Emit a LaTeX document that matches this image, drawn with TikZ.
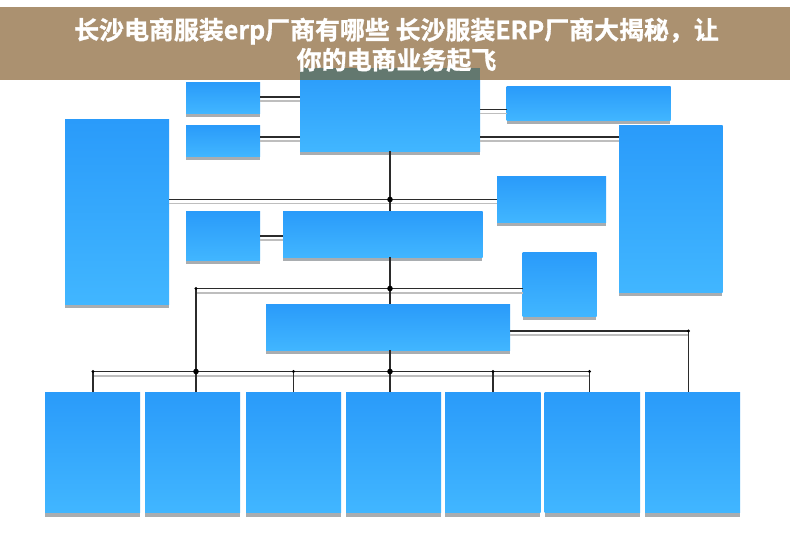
\documentclass[tikz,border=0pt]{standalone}
\usepackage{fontspec}
\newfontfamily\cjk[FakeBold=1.2]{Noto Sans CJK SC Bold}
\definecolor{bannerc}{HTML}{AB9170}
\definecolor{overlapc}{HTML}{63786F}
\definecolor{shadowc}{HTML}{A9ADB0}
\definecolor{boxtop}{HTML}{2A9BFA}
\definecolor{boxbot}{HTML}{41B6FF}
\definecolor{linedark}{HTML}{2B2B2B}
\definecolor{linegray}{HTML}{BEBEBE}
\tikzset{
  bluebox/.style={rectangle,inner sep=0pt,outer sep=0pt,draw=none,top color=boxtop,bottom color=boxbot,anchor=north west},
  linkdark/.style={draw=linedark,line width=1.05pt},
  linkgray/.style={draw=linegray,line width=1.2pt},
  jointbig/.style={circle,fill=black,inner sep=0pt,minimum size=4.2pt,outer sep=0pt},
  jointsmall/.style={circle,fill=black,inner sep=0pt,minimum size=2.4pt,outer sep=0pt},
  titletext/.style={text=white,font=\cjk\fontsize{18.7pt}{22.5pt}\selectfont,align=center,inner sep=0pt}
}
% name, x1, y1, x2, y2 (blue part), y3 (shadow bottom)
\newcommand{\bbox}[6]{%
  \fill[shadowc] (#2+0.3,-#5+1) rectangle (#4-0.5,-#6);
  \pgfmathsetmacro{\bw}{(#4-#2)*0.75}\pgfmathsetmacro{\bh}{(#5-#3)*0.75}
  \node[bluebox,minimum width=\bw pt,minimum height=\bh pt] (#1) at (#2,-#3) {};
}
\begin{document}
\begin{tikzpicture}[x=0.75pt,y=0.75pt]
\useasboundingbox (0,0.5) rectangle (790,-554.5);
\fill[white] (0,0.5) rectangle (790,-554.5);
\bbox{main}{300}{68}{480}{151}{155}
\bbox{sa}{186}{82}{260}{113}{117}
\bbox{sb}{186}{125}{260}{156}{160}
\bbox{lefttall}{65}{119.5}{169}{304}{308}
\bbox{sc}{186}{211}{260}{260}{264}
\bbox{midbar}{283}{211}{482.5}{257}{261}
\bbox{righttop}{506.5}{86}{670.5}{120}{123.5}
\bbox{righttall}{619}{125}{722.5}{292}{296}
\bbox{rightmid}{497}{176}{606}{222}{226}
\bbox{rightsmall}{522.5}{252}{596.5}{316}{320}
\bbox{centerbar}{266}{304}{510}{350}{354}
\bbox{ba}{45}{392}{140}{512}{516.5}
\bbox{bb}{145}{392}{240}{512}{516.5}
\bbox{bc}{246}{392}{341}{512}{516.5}
\bbox{bd}{346}{392}{441}{512}{516.5}
\bbox{be}{445}{392}{540.5}{512}{516.5}
\bbox{bf}{544.5}{392}{640}{512}{516.5}
\bbox{bg}{645}{392}{740}{512}{516.5}
% helper coordinates
\coordinate (busL) at (93,-371);
\coordinate (busR) at (589.5,-371);
\coordinate (busM) at (196,-371);
\coordinate (busC) at (390,-371);
\coordinate (busB) at (293.5,-371);
\coordinate (busE) at (493,-371);
\coordinate (upL) at (196,-288);
\coordinate (upC) at (390,-288);
\coordinate (cross) at (390,-199);
\coordinate (turn) at (688.5,-330.5);
% gray lines
\path[linkgray] (sa.east |- 0,-100.5) -- (main.west |- 0,-100.5);
\path[linkgray] (sb.east |- 0,-140.5) -- (main.west |- 0,-140.5);
\path[linkgray] (main.east |- 0,-113) -- (righttop.west |- 0,-113);
\path[linkgray] (main.east |- 0,-140.5) -- (righttall.west |- 0,-140.5);
\path[linkgray] (lefttall.east |- 0,-203) -- (rightmid.west |- 0,-203);
\path[linkgray] (sc.east |- 0,-239.5) -- (midbar.west |- 0,-239.5);
\path[linkgray] (upL |- 0,-292.5) -- (rightsmall.west |- 0,-292.5);
\path[linkgray] (busL |- 0,-375.5) -- (busR |- 0,-375.5);
\path[linkgray] (centerbar.east |- 0,-334.5) -- (turn |- 0,-334.5);
% dark lines
\path[linkdark] (sa.east |- 0,-96.5) -- (main.west |- 0,-96.5);
\path[linkdark] (sb.east |- 0,-136.5) -- (main.west |- 0,-136.5);
\path[linkdark] (main.east |- 0,-109) -- (righttop.west |- 0,-109);
\path[linkdark] (main.east |- 0,-136.5) -- (righttall.west |- 0,-136.5);
\path[linkdark] (lefttall.east |- cross) -- (rightmid.west |- cross);
\path[linkdark] (cross |- main.south) -- (cross |- midbar.north);
\path[linkdark] (sc.east |- 0,-235.5) -- (midbar.west |- 0,-235.5);
\path[linkdark] (upC |- midbar.south) -- (upC |- centerbar.north);
\path[linkdark] (upL) -- (rightsmall.west |- upL);
\path[linkdark] (upL) -- (upL |- bb.north);
\path[linkdark] (busC |- centerbar.south) -- (busC |- bd.north);
\path[linkdark] (busL) -- (busR);
\path[linkdark] (busL) -- (busL |- ba.north);
\path[linkdark] (busB) -- (busB |- bc.north);
\path[linkdark] (busE) -- (busE |- be.north);
\path[linkdark] (busR) -- (busR |- bf.north);
\path[linkdark] (centerbar.east |- turn) -- (turn) -- (turn |- bg.north);
% joints
\node[jointbig] (j1) at (cross) {};
\node[jointbig] (j2) at (upC) {};
\node[jointbig] (j3) at (busM) {};
\node[jointbig] (j4) at (busC) {};
\node[jointsmall] (j5) at (upL) {};
\node[jointsmall] (j6) at (busL) {};
\node[jointsmall] (j7) at (busB) {};
\node[jointsmall] (j8) at (busE) {};
\node[jointsmall] (j9) at (busR) {};
\node[jointsmall] (j10) at (turn) {};
% banner
\fill[bannerc] (0,-6.6) rectangle (790,-79.6);
\fill[overlapc] (300,-68) rectangle (480,-79.6);
\node[titletext] (title) at (396.5,-44.3) {长沙电商服装erp厂商有哪些 长沙服装ERP厂商大揭秘，让\\你的电商业务起飞};
\end{tikzpicture}
\end{document}
